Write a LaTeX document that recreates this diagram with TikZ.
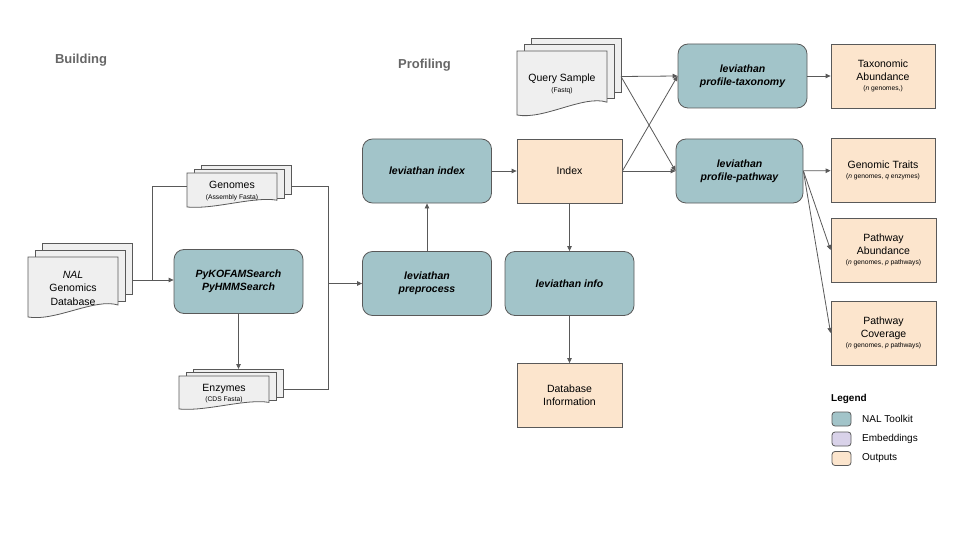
\documentclass[tikz,border=0pt]{standalone}
\usepackage{fontspec}
\setmainfont{Liberation Sans}
\usetikzlibrary{arrows.meta}

\definecolor{toolkit}{HTML}{A2C4C9}
\definecolor{output}{HTML}{FCE5CD}
\definecolor{embed}{HTML}{D9D2E9}
\definecolor{paper}{HTML}{EFEFEF}
\definecolor{edgegray}{HTML}{595959}
\definecolor{titlegray}{HTML}{666666}

\newcommand{\subnote}[1]{{\fontsize{6.7}{8}\selectfont #1}}

\newcommand{\docstack}[6]{%
  \foreach \k in {2,1}
    \draw[page] (#2+7*\k,#3-#5*\k) rectangle (#2+90+7*\k,#3+0.85*#4-#5*\k);
  \draw[page] (#2,#3) -- (#2+90,#3) -- (#2+90,#3+0.8*#4)
    .. controls (#2+67,#3+0.68*#4) and (#2+27,#3+1.08*#4) .. (#2,#3+#4) -- cycle;
  \node[doctext] (#1) at (#2+45,#3+0.5*#4+1) {#6};
  \coordinate (#1-e) at (#2+104,#3+0.5*#4-#5);
  \coordinate (#1-w) at (#2,#3+0.5*#4-#5);
  \coordinate (#1-n) at (#2+52,#3-2*#5);
}

\tikzset{
  page/.style={fill=paper,draw=edgegray,line width=0.8pt},
  doctext/.style={align=center,font=\fontsize{10.5}{13.5}\selectfont},
  toolbox/.style={draw=edgegray,fill=toolkit,line width=0.8pt,rounded corners=10pt,
    minimum width=129pt,minimum height=64pt,align=center,
    font=\fontsize{10.5}{13}\selectfont\bfseries\itshape},
  outbox/.style={draw=edgegray,fill=output,line width=0.8pt,
    minimum width=105pt,minimum height=64pt,align=center,
    font=\fontsize{10.5}{13}\selectfont},
  heading/.style={font=\fontsize{13}{15}\selectfont\bfseries,text=titlegray},
  swatch/.style={draw=edgegray,line width=0.8pt,rounded corners=3pt,
    minimum width=19pt,minimum height=14pt,inner sep=0pt},
  keytext/.style={anchor=west,inner sep=0pt,font=\fontsize{10}{12}\selectfont},
  link/.style={draw=edgegray,line width=0.8pt},
  arrow/.style={link,-{Triangle[length=5pt,width=4.5pt]}}
}

\begin{document}
\begin{tikzpicture}[x=1pt,y=-1pt]

      \useasboundingbox (0,0) rectangle (960,540);

      \node[heading] (building)  at (81,60.5) {Building};
      \node[heading] (profiling) at (424.5,65.5) {Profiling};

      \docstack{nal}{28}{257}{60}{7}{\textit{NAL}\\Genomics\\Database}
      \docstack{genomes}{187}{173}{34}{4}{Genomes\\[-3pt]\subnote{(Assembly Fasta)}}
      \docstack{enzymes}{179}{376}{33}{3.5}{Enzymes\\[-3pt]\subnote{(CDS Fasta)}}
      \docstack{query}{517}{51}{64}{6.5}{Query Sample\\[-3pt]\subnote{(Fastq)}}

      \begin{scope}[every node/.style={toolbox}]
        \node (search)     at (238.5,281.5) {PyKOFAMSearch\\PyHMMSearch};
        \node (index)      at (427,171)     {leviathan index};
        \node (preprocess) at (427,283.5)   {leviathan\\preprocess};
        \node (info)       at (569.5,283.5) {leviathan info};
        \node (taxonomy)   at (742.5,76)    {leviathan\\profile-taxonomy};
        \node[minimum width=127pt] (pathway) at (739.5,171) {leviathan\\profile-pathway};
      \end{scope}

      \begin{scope}[every node/.style={outbox}]
        \node (idxfile) at (569.5,171)   {Index};
        \node (dbinfo)  at (569.5,395.5) {Database\\Information};
        \node[minimum width=104pt] (taxab)  at (883,76)    {Taxonomic\\Abundance\\[-3pt]\subnote{(\textit{n} genomes,)}};
        \node[minimum width=104pt] (traits) at (883,170.5) {Genomic Traits\\[-3pt]\subnote{(\textit{n} genomes, \textit{q} enzymes)}};
        \node (pabund)  at (883.5,250) {Pathway\\Abundance\\[-3pt]\subnote{(\textit{n} genomes, \textit{p} pathways)}};
        \node (pcover)  at (883.5,333) {Pathway\\Coverage\\[-3pt]\subnote{(\textit{n} genomes, \textit{p} pathways)}};
      \end{scope}

      \path (nal-e) ++(20,0) coordinate (split);
      \path (genomes-e) ++(37,0) coordinate (merge);

      \draw[arrow] (nal-e) -- (nal-e -| search.west);
      \draw[link]  (split) |- (genomes-w);
      \draw[arrow] (search.south) -- (search.south |- enzymes-n);
      \draw[link]  (genomes-e) -- (merge) |- (enzymes-e);
      \draw[arrow] (merge |- preprocess.west) -- (preprocess.west);

      \begin{scope}[every edge/.style={arrow}]
        \path (preprocess) edge (index);
        \path (index)      edge (idxfile);
        \path (idxfile)    edge (info);
        \path (info)       edge (dbinfo);
        \path (query-e)    edge (taxonomy.west);
        \path (query-e)    edge (pathway.west);
        \path (idxfile.east) edge (taxonomy.west);
        \path (idxfile)    edge (pathway);
        \path (taxonomy)   edge (taxab);
        \path (pathway)    edge (traits);
        \path (pathway.east) edge (pabund.west);
        \path (pathway.east) edge (pcover.west);
      \end{scope}

      \node[anchor=west,inner sep=0pt,font=\fontsize{10}{12}\selectfont\bfseries] (legend) at (831,398.5) {Legend};
      \node[swatch,fill=toolkit] (keytool)   at (841.5,419) {};
      \node[swatch,fill=embed]   (keyembed)  at (841.5,439) {};
      \node[swatch,fill=output]  (keyoutput) at (841.5,458.5) {};
      \node[keytext] (keytooltext)   at (862,419)   {NAL Toolkit};
      \node[keytext] (keyembedtext)  at (862,439)   {Embeddings};
      \node[keytext] (keyoutputtext) at (862,458.5) {Outputs};

    \end{tikzpicture}
\end{document}
